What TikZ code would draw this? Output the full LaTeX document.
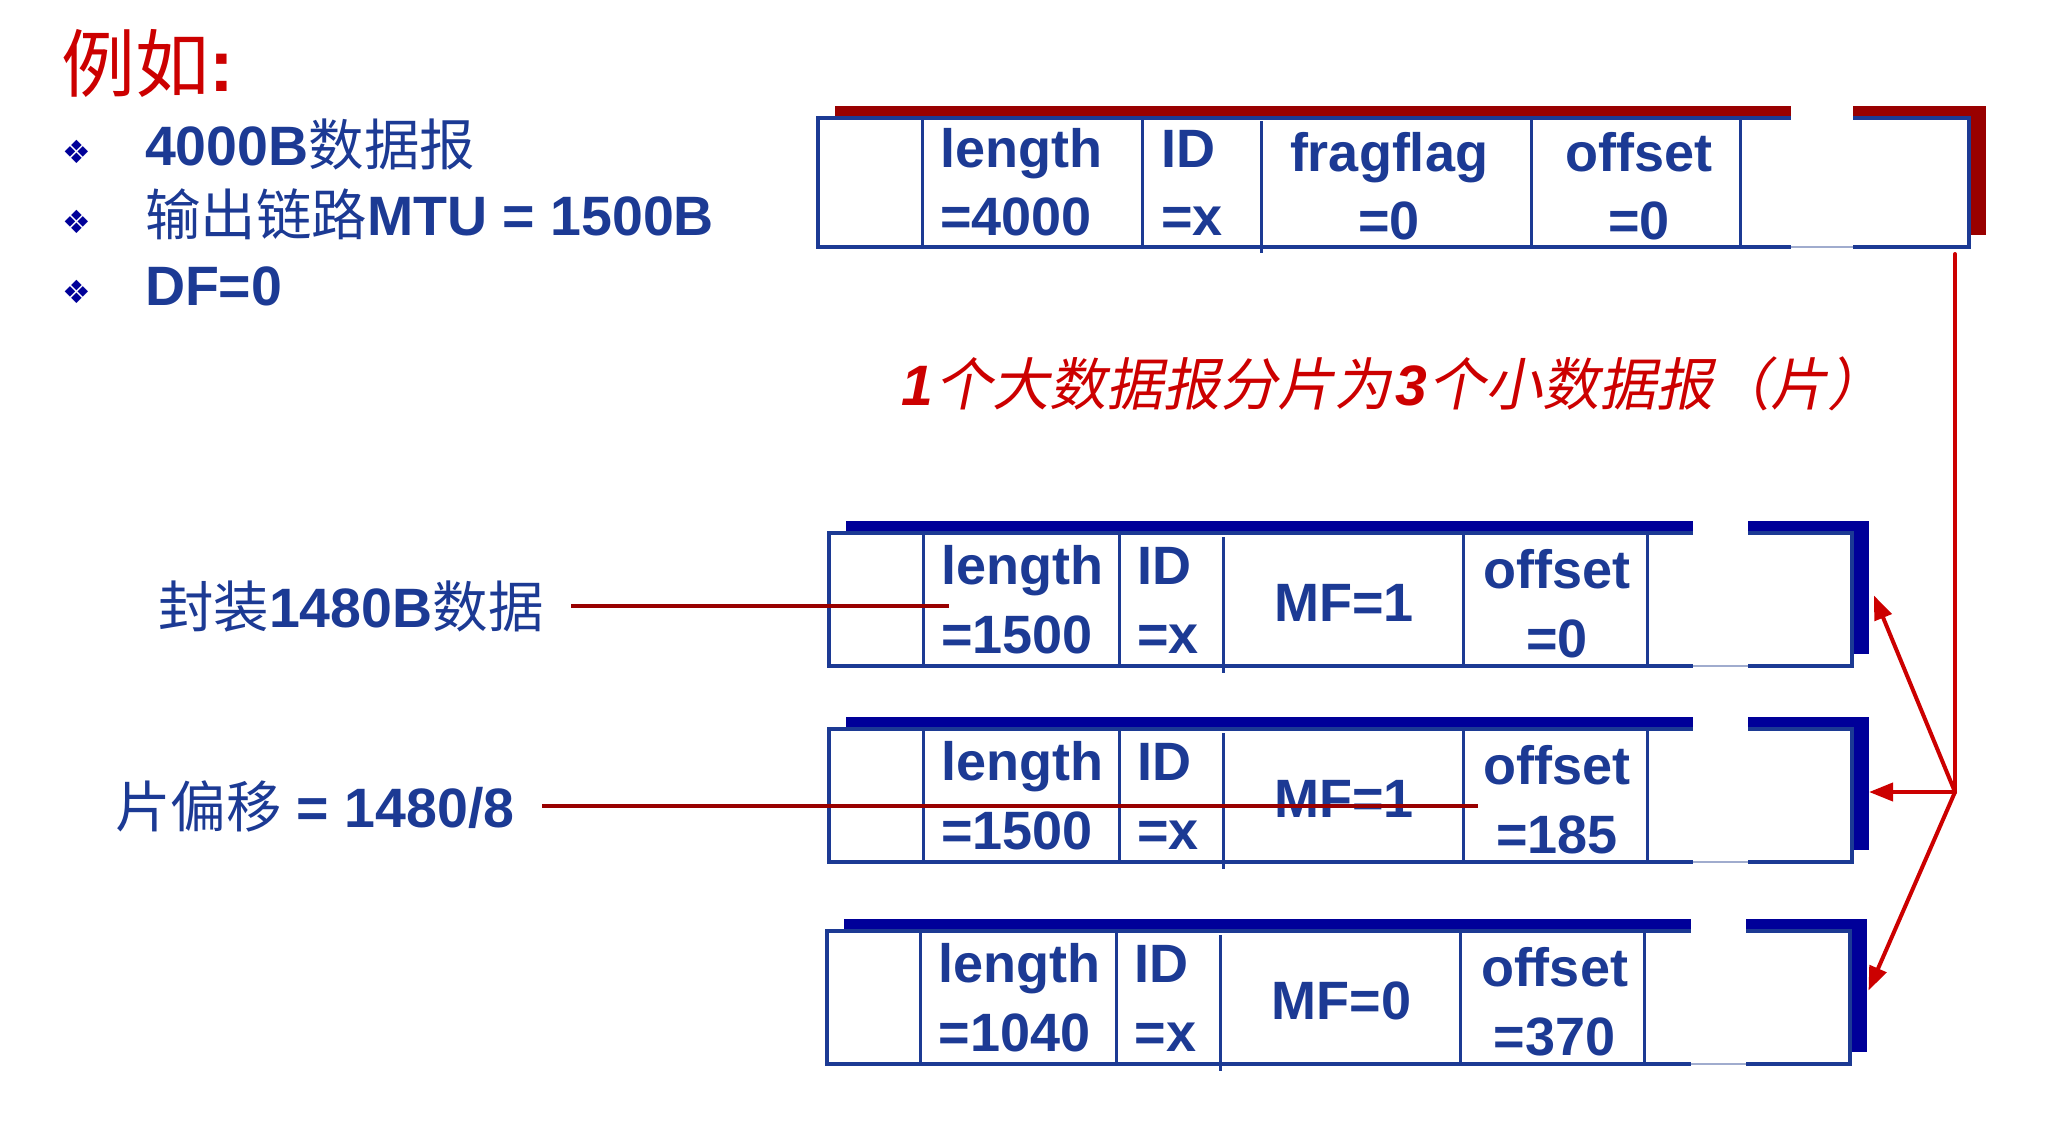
\documentclass[tikz,border=0pt]{standalone}
\usepackage{fontspec}
\setmainfont{Liberation Sans}
\newfontfamily\cjkfont{Noto Sans CJK SC}
\newfontfamily\cjkslant{Noto Sans CJK SC}[FakeSlant=0.2]
\newfontfamily\symfont{DejaVu Sans}
\usetikzlibrary{arrows.meta,calc}

\definecolor{pblue}{RGB}{28,58,148}
\definecolor{shblue}{RGB}{0,0,153}
\definecolor{shred}{RGB}{153,0,0}
\definecolor{hired}{RGB}{204,0,0}
\definecolor{gapgray}{RGB}{160,172,206}

\newcommand\zh[1]{{\cjkfont\mdseries #1}}
\newcommand\zhsl[1]{{\cjkslant\mdseries #1}}

\tikzset{
  txt/.style={inner sep=0pt, outer sep=0pt, text=pblue,
              font=\fontsize{54}{64}\selectfont\bfseries},
  lefttxt/.style={txt, font=\fontsize{55.5}{64}\selectfont\bfseries},
  frame box/.style={rectangle, draw=pblue, line width=4pt, fill=white,
                    inner sep=0pt, outer sep=0pt, anchor=north west},
  shade box/.style={rectangle, draw=none, inner sep=0pt, outer sep=0pt,
                    anchor=north west},
  divider/.style={draw=pblue, line width=3pt},
  gapline/.style={draw=gapgray, line width=1.5pt},
  redln/.style={draw=hired, line width=4pt, line cap=round},
  redarr/.style={draw=hired, line width=4pt, line cap=round,
                 -{Triangle[length=24pt,width=18pt]}},
  leader/.style={draw=shred, line width=4.5pt},
  bulletmark/.style={inner sep=0pt, outer sep=0pt, text=shblue,
                     font=\symfont\fontsize{32}{36}\selectfont},
}

% header frame: #1 name, #2 left, #3 top, #4 right, #5 bottom,
% #6 shadow colour, #7/#8 left/right edge of the break in the frame
\newcommand\pktframe[8]{%
  \node[shade box, fill=#6, minimum width={#4-#2}, minimum height={#5-#3}]
    (#1s) at ({#2+17},{#3-12}) {};
  \node[frame box, minimum width={#4-#2}, minimum height={#5-#3}]
    (#1) at (#2,#3) {};
  \fill[white] (#7,{#3-22}) rectangle (#8,{#5+4});
  \draw[gapline] (#7,#5) -- (#8,#5);
}

% fragment header: #1 name, #2 top edge, #3 length, #4 MF field, #5 offset
\newcommand\fragment[5]{%
  \pktframe{#1}{829}{#2}{1852}{#2+133}{shblue}{1693}{1748}
  \draw[divider] (923,#2) -- (923,#2+133);
  \draw[divider] (1119,#2) -- (1119,#2+133);
  \draw[divider] (1223,#2+4) -- (1223,#2+140);
  \draw[divider] (1463,#2) -- (1463,#2+133);
  \draw[divider] (1647,#2) -- (1647,#2+133);
  \node[txt, anchor=base west] (#1len)  at (941,#2+51)  {length};
  \node[txt, anchor=base west] (#1lenv) at (941,#2+120) {=#3};
  \node[txt, anchor=base west] (#1id)   at (1137,#2+51) {ID};
  \node[txt, anchor=base west] (#1idv)  at (1137,#2+120) {=x};
  \node[txt, anchor=base] (#1mf)   at (1344,#2+88)  {#4};
  \node[txt, anchor=base] (#1off)  at (1557,#2+55)  {offset};
  \node[txt, anchor=base] (#1offv) at (1557,#2+124) {=#5};
}

\begin{document}
\begin{tikzpicture}[x=1pt, y=-1pt]
\useasboundingbox (0,0) rectangle (2045,1124);

% title and conditions
\node[inner sep=0pt, outer sep=0pt, anchor=base west, text=hired,
      font=\fontsize{74}{80}\selectfont] (title) at (61,92) {\zh{例如}\textbf{:}};
\node[bulletmark] (b1) at (77,152) {❖};
\node[bulletmark] (b2) at (77,222) {❖};
\node[bulletmark] (b3) at (77,292) {❖};
\node[lefttxt, anchor=base west] (c1) at (145,165) {4000B\zh{数据报}};
\node[lefttxt, anchor=base west] (c2) at (145,235) {\zh{输出链路}MTU = 1500B};
\node[lefttxt, anchor=base west] (c3) at (145,305) {DF=0};

% original datagram header
\pktframe{d0}{818}{118}{1969}{247}{shred}{1791}{1853}
\draw[divider] (922,118) -- (922,247);
\draw[divider] (1142,118) -- (1142,247);
\draw[divider] (1261,121) -- (1261,253);
\draw[divider] (1531,118) -- (1531,247);
\draw[divider] (1740,118) -- (1740,247);
\node[txt, anchor=base west] (d0len)  at (940,167)  {length};
\node[txt, anchor=base west] (d0lenv) at (940,235)  {=4000};
\node[txt, anchor=base west] (d0id)   at (1161,167) {ID};
\node[txt, anchor=base west] (d0idv)  at (1161,235) {=x};
\node[txt, anchor=base] (d0ff)   at (1389,171) {fragflag};
\node[txt, anchor=base] (d0ffv)  at (1389,239) {=0};
\node[txt, anchor=base] (d0off)  at (1639,171) {offset};
\node[txt, anchor=base] (d0offv) at (1639,239) {=0};

% caption
\node[inner sep=0pt, outer sep=0pt, anchor=base, text=hired,
      font=\fontsize{57}{64}\selectfont] (cap) at (1393,405)
  {\textbf{\textit{1}}\kern2pt\zhsl{个大数据报分片为}\kern4pt\textbf{\textit{3}}\kern2pt\zhsl{个小数据报（片）}};

% the three fragments
\fragment{f1}{533}{1500}{MF=1}{0}
\fragment{f2}{729}{1500}{MF=1}{185}
\begin{scope}[xshift=-2.5pt]
\fragment{f3}{931}{1040}{MF=0}{370}
\end{scope}

% annotations
\node[lefttxt, anchor=base west] (lab1) at (158,627) {\zh{封装}1480B\zh{数据}};
\node[lefttxt, anchor=base west] (lab2) at (115,827) {\zh{片偏移} = 1480/8};
\coordinate (l1a) at (571,606);
\coordinate (l1b) at (949,606);
\coordinate (l2a) at (542,806);
\coordinate (l2b) at (1478,806);
\draw[leader] (l1a) -- (l1b);
\draw[leader] (l2a) -- (l2b);

% fragmentation arrows
\coordinate (jn) at (1955,792);
\coordinate (vtop) at ($(d0.south -| jn)+(0,7)$);
\draw[redln] (vtop) -- (jn);
\draw[redarr] (jn) -- ($(f1s.east)+(5,8)$);
\draw[redarr] (jn) -- (f2s.east |- jn);
\draw[redarr] (jn) -- ($(f3s.east)+(2,5)$);
\end{tikzpicture}
\end{document}
